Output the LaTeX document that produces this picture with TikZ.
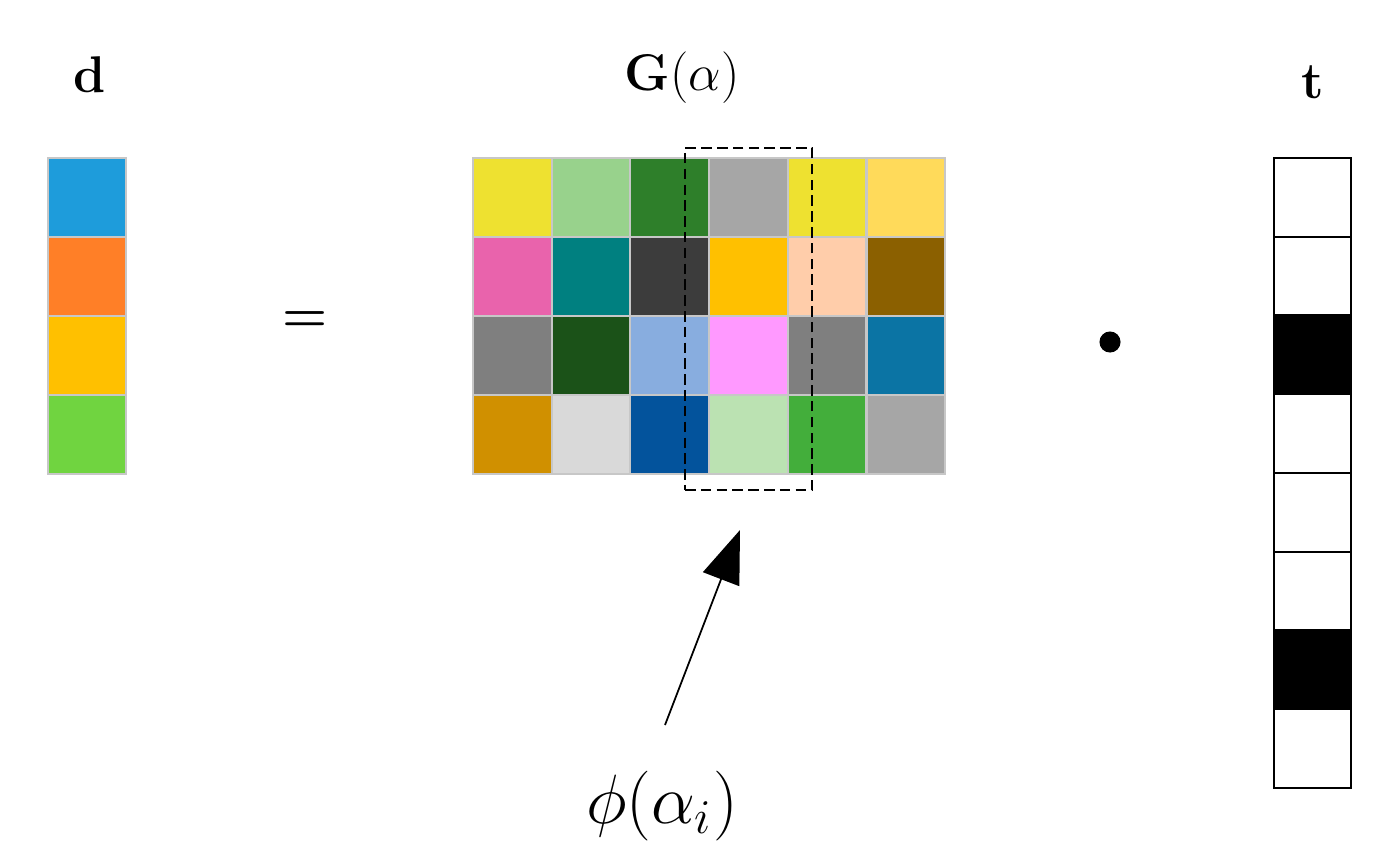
\documentclass[tikz,border=0pt]{standalone}
\usepackage{amsmath,bm}
\usetikzlibrary{arrows.meta}
\begin{document}
\begin{tikzpicture}[x=0.02cm,y=-0.02cm,
  cell/.style={draw=black!22,line width=1.2pt},
  tcell/.style={draw=black,line width=1.2pt},
  big/.style={scale=1.7,font=\LARGE}]
\useasboundingbox (0,0) rectangle (1386,866);
% d column
\foreach \c [count=\i from 0] in {1E9CDB,FF7F27,FFC000,70D440}{
  \definecolor{cc}{HTML}{\c}
  \filldraw[cell,fill=cc] (48,158+79*\i) rectangle ++(78,79);
}
\node[big] (dlab) at (90,75) {$\mathbf{d}$};
\node[big] (eq) at (305,322) {$\boldsymbol{=}$};
% G matrix
\foreach \j in {0,...,3}{
  \ifcase\j \gdef\rowlist{EEE130,98D28C,2E7F2A,A6A6A6,EEE130,FFDA5A}
  \or \gdef\rowlist{E963AC,008080,3C3C3C,FFC000,FFCDAA,8B6000}
  \or \gdef\rowlist{7F7F7F,1B5218,88ADDF,FF99FF,7F7F7F,0B74A4}
  \or \gdef\rowlist{D09000,D9D9D9,03539C,BBE2B2,43AE3B,A6A6A6}\fi
  \foreach \c [count=\i from 0] in \rowlist {
    \definecolor{cc}{HTML}{\c}
    \filldraw[cell,fill=cc] (473+78.7*\i,158+79*\j) rectangle ++(78.7,79);
  }
}
\node[big] (glab) at (682,78) {$\mathbf{G}(\alpha)$};
\node[draw,dash pattern=on 6pt off 3pt,line width=1pt,minimum width=127*0.02cm,minimum height=342*0.02cm] (col) at (748.5,319) {};
\coordinate (tail) at (665,725);
\draw[line width=1pt,-{Triangle[length=30pt,width=22pt]}] (tail) -- (740,530);
\node[scale=2.3,font=\LARGE] (phi) at (662,806) {$\phi(\alpha_i)$};
\node[circle,fill=black,inner sep=0pt,minimum size=12pt] (dot) at (1110,342) {};
% t column
\foreach \i in {0,...,7}{
  \ifnum\i=2 \def\ff{black}\else\ifnum\i=6 \def\ff{black}\else\def\ff{white}\fi\fi
  \filldraw[tcell,fill=\ff] (1274,158+78.75*\i) rectangle ++(77,78.75);
}
\node[big] (tlab) at (1313,82) {$\mathbf{t}$};
\end{tikzpicture}
\end{document}
